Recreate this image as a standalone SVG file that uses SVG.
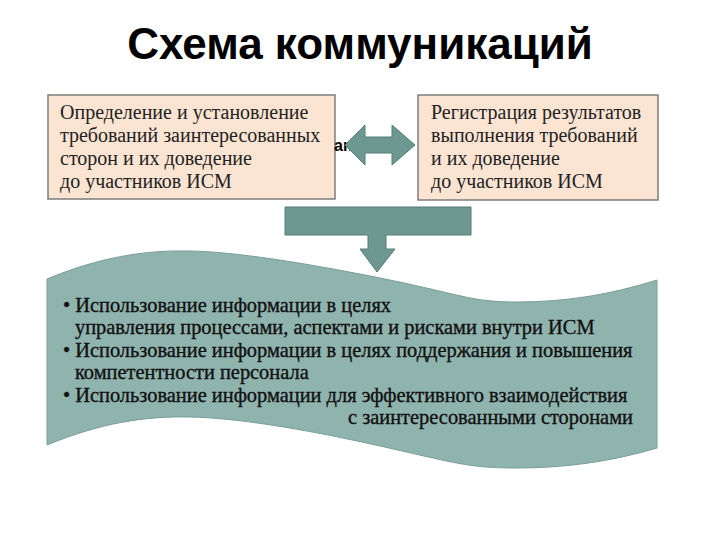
<svg xmlns="http://www.w3.org/2000/svg" width="720" height="540" viewBox="0 0 720 540">
<style>
.box{fill:#FCE4D3;stroke:#7d7d7d;stroke-width:1.5}
.bt{font-family:"Liberation Serif","Times New Roman",serif;font-size:20px;fill:#222}
.wt{font-family:"Liberation Serif","Times New Roman",serif;font-size:20.4px;fill:#111;stroke:#111;stroke-width:0.35}
.title{font-family:"Liberation Sans",Arial,sans-serif;font-weight:bold;font-size:44px;fill:#000}
.arr{fill:#6C9891;stroke:#557d77;stroke-width:1}
.wave{fill:#8FB3AD;stroke:#7a9e98;stroke-width:1}
</style>
<rect width="720" height="540" fill="#fff"/>
<g id="title"><text class="title" x="360" y="59" text-anchor="middle">Схема коммуникаций</text></g>
<g id="box-left">
<rect class="box" x="48" y="95" width="287" height="104"/>
<text class="bt" x="60" y="119">Определение и установление</text>
<text class="bt" x="60" y="142">требований заинтересованных</text>
<text class="bt" x="60" y="165">сторон и их доведение</text>
<text class="bt" x="60" y="188">до участников ИСМ</text>
</g>
<g id="box-right">
<rect class="box" x="418" y="95" width="240" height="105"/>
<text class="bt" x="431" y="119">Регистрация результатов</text>
<text class="bt" x="431" y="142">выполнения требований</text>
<text class="bt" x="431" y="165">и их доведение</text>
<text class="bt" x="431" y="188">до участников ИСМ</text>
</g>
<g id="fragment"><text x="334" y="151" font-family="Liberation Sans,Arial,sans-serif" font-weight="bold" font-size="16" fill="#000">ан</text></g>
<g id="wave-block">
<path class="wave" d="M47,279 C100,257 145,250 190,251 C235,252 300,262 380,278 C460,294 470,302 517,302 C564,302 610,295 657,280 L657,448 C610,462 564,468 517,468 C470,468 460,464 380,446 C300,428 235,418 190,417 C145,416 100,423 47,445 Z"/>
<text class="wt" x="63" y="312">• Использование информации в целях</text>
<text class="wt" x="75" y="334">управления процессами, аспектами и рисками внутри ИСМ</text>
<text class="wt" x="63" y="357">• Использование информации в целях поддержания и повышения</text>
<text class="wt" x="75" y="379">компетентности персонала</text>
<text class="wt" x="63" y="402">• Использование информации для эффективного взаимодействия</text>
<text class="wt" x="633" y="424" text-anchor="end">с заинтересованными сторонами</text>
</g>
<g id="connectors">
<polygon class="arr" points="345,145 365,125 365,137 392,137 392,125 415,145 392,165 392,153 365,153 365,165"/>
<path class="arr" d="M285,207 H471 V235 H386 V249 H395 L377,272 L360,249 H368 V235 H285 Z"/>
</g>
</svg>
